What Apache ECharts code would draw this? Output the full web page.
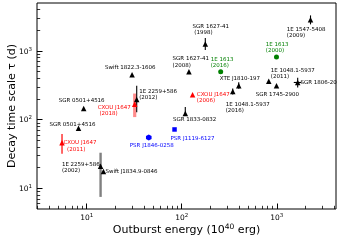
<!DOCTYPE html>
<html><head><meta charset="utf-8">
<script src="https://cdn.jsdelivr.net/npm/echarts@6/dist/echarts.min.js"></script>
<style>html,body{margin:0;padding:0;background:#fff}#c{width:340px;height:242px}</style>
</head><body><div id="c"></div>
<script>
// ---- data ----
const labelText = [
  'SGR 0501+4516', 'SGR 0501+4516', 'CXOU J1647\n  (2011)', '1E 2259+586\n(2002)',
  'Swift J1834.9-0846', 'Swift 1822.3-1606', 'CXOU J1647\n (2018)', '1E 2259+586\n(2012)',
  'SGR 1627-41\n(2008)', 'SGR 1627-41\n (1998)', '1E 1613\n(2016)', 'XTE J1810-197',
  'CXOU J1647\n(2006)', '1E 1048.1-5937\n(2016)', '1E 1048.1-5937\n(2011)', 'SGR 1745-2900',
  'SGR 1806-20', '1E 1547-5408\n(2009)', '1E 1613\n(2000)', 'SGR 1833-0832',
  'PSR J1119-6127', 'PSR J1846-0258'
];
const energy = [9.3, 8.2, 5.5, 14, 15, 30, 32, 33.6, 119, 177, 257, 398, 130, 344, 824, 993, 1660, 2265, 993, 109, 84, 45];
const tau = [146, 75, 46, 21, 17.6, 452, 167, 197, 499, 1260, 500, 313, 231, 257, 362, 313, 348, 2860, 820, 123, 72, 55];
const kind = ['mag','mag','red','mag','mag','mag','red','mag','mag','mag','green','mag','red','mag','mag','mag','mag','mag','green','mag','psrSq','psrHex'];

const errEnergy = [5.5, 14, 32, 33.6, 177, 398, 344, 1660, 2265, 109];
const errTauLo = [32, 7.5, 109, 128, 1030, 281, 233, 294, 2440, 116];
const errTauHi = [62, 33, 240, 313, 1540, 350, 284, 409, 3300, 153];
const errKind = ['red','gray','redSoft','black','black','black','black','black','black','black'];
const xErrTau = [348];
const xErrLo = [1510];
const xErrHi = [1820];

const xMajor = [10, 100, 1000];
const xMinor = [3,4,5,6,7,8,9,20,30,40,50,60,70,80,90,200,300,400,500,600,700,800,900,2000,3000,4000];
const yMajor = [10, 100, 1000];
const yMinor = [6,7,8,9,20,30,40,50,60,70,80,90,200,300,400,500,600,700,800,900,2000,3000,4000];

// ---- layout / style (not data) ----
const labelDx = [-25,-29,1.5,-38.7,2,-27,-37,2.5,-16.3,-12.7,-10,-19,4.3,-7,2,-20.7,2.7,-23.7,-10.7,-12.4,-4,-19];
const labelDy = [-8,-3.3,0,-2,0,-7.3,3,-8.3,-12.7,-17.5,-12.5,-7.3,-0.3,13,-10.7,9.3,-0.3,10,-12.7,6.3,9,7.7];
const FONT = 'DejaVu Sans';
const LH = 6.3;
const kindStyle = {
  mag:   {color:'#000000', symbol:'triangle', size:[5.5,5.5]},
  red:   {color:'#ff0000', symbol:'triangle', size:[5.5,5.5]},
  green: {color:'#008000', symbol:'circle', size:5},
  psrSq: {color:'#0000ff', symbol:'rect', size:4.5},
  psrHex:{color:'#0000ff', symbol:'path://M0,-1L0.866,-0.5L0.866,0.5L0,1L-0.866,0.5L-0.866,-0.5Z', size:[5.6,6.2]}
};
const errStyle = {
  red:    {stroke:'#ff0000', lineWidth:1.2, opacity:1},
  gray:   {stroke:'#808080', lineWidth:2.4, opacity:1},
  redSoft:{stroke:'#ff0000', lineWidth:3.2, opacity:0.45},
  black:  {stroke:'#000000', lineWidth:1.1, opacity:1}
};

function sup(v){
  const e = Math.round(Math.log10(v));
  return '{b|10}{s|' + e + '}';
}
const tickRich = {
  b:{fontSize:7.5, fontFamily:FONT, color:'#000', verticalAlign:'bottom', padding:[1.5,0,0,0]},
  s:{fontSize:5.5, fontFamily:FONT, color:'#000', verticalAlign:'top'}
};

const scatterSeries = Object.keys(kindStyle).map(k => {
  const st = kindStyle[k];
  const data = [];
  for (let i = 0; i < energy.length; i++) {
    if (kind[i] !== k) continue;
    data.push({
      value:[energy[i], tau[i]],
      label:{
        show:true, position:'inside', align:'left', verticalAlign:'top',
        offset:[labelDx[i], labelDy[i] - LH/2],
        formatter: labelText[i],
        color: st.color, fontSize:5.5, lineHeight:LH, fontFamily:FONT
      }
    });
  }
  return {
    type:'scatter', xAxisIndex:0, yAxisIndex:0, z:5,
    symbol: st.symbol, symbolSize: st.size,
    itemStyle:{color: st.color, opacity:1},
    data, animation:false, clip:false
  };
});

const errData = errEnergy.map((e,i) => [e, errTauLo[i], errTauHi[i], i]);
const errSeries = {
  type:'custom', xAxisIndex:0, yAxisIndex:0, z:3, animation:false,
  data: errData,
  renderItem(params, api){
    const i = api.value(3);
    const p1 = api.coord([api.value(0), api.value(1)]);
    const p2 = api.coord([api.value(0), api.value(2)]);
    const s = errStyle[errKind[i]];
    return {type:'line', shape:{x1:p1[0], y1:p1[1], x2:p2[0], y2:p2[1]},
      style:{stroke:s.stroke, lineWidth:s.lineWidth, opacity:s.opacity}};
  }
};
const xErrSeries = {
  type:'custom', xAxisIndex:0, yAxisIndex:0, z:3, animation:false,
  data: xErrTau.map((t,i) => [xErrLo[i], xErrHi[i], t]),
  renderItem(params, api){
    const p1 = api.coord([api.value(0), api.value(2)]);
    const p2 = api.coord([api.value(1), api.value(2)]);
    return {type:'line', shape:{x1:p1[0], y1:p1[1], x2:p2[0], y2:p2[1]},
      style:{stroke:'#000', lineWidth:1.1}};
  }
};

const baseX = {type:'log', logBase:10, min:3, max:4200, position:'bottom', gridIndex:0,
  axisLine:{show:false}, splitLine:{show:false}};
const baseY = {type:'log', logBase:10, min:5, max:5000, position:'left', gridIndex:0,
  axisLine:{show:false}, splitLine:{show:false}};

const chart = echarts.init(document.getElementById('c'), null, {renderer:'canvas'});
chart.setOption({
  animation:false,
  backgroundColor:'#fff',
  grid:{left:37, right:4, top:3, bottom:33, containLabel:false, outerBoundsMode:'none',
    show:true, borderColor:'#000', borderWidth:1, backgroundColor:'transparent'},
  xAxis:[
    Object.assign({}, baseX, {
      axisTick:{show:true, inside:true, length:5.5, customValues:xMajor, lineStyle:{color:'#000', width:1}},
      axisLabel:{show:true, customValues:xMajor, margin:4, formatter: v => sup(v), rich: tickRich},
      name:'{t|Outburst energy (10}{s|40}{t| erg)}', nameLocation:'middle', nameGap:14, nameMoveOverlap:false,
      nameTextStyle:{fontFamily:FONT, fontSize:11, color:'#000',
        rich:{t:{fontFamily:FONT, fontSize:11, color:'#000', verticalAlign:'bottom', padding:[2,0,0,0]},
              s:{fontFamily:FONT, fontSize:7.5, color:'#000', verticalAlign:'top'}}}
    }),
    Object.assign({}, baseX, {
      axisTick:{show:true, inside:true, length:3.2, customValues:xMinor, lineStyle:{color:'#000', width:0.8}},
      axisLabel:{show:false}
    })
  ],
  yAxis:[
    Object.assign({}, baseY, {
      axisTick:{show:true, inside:true, length:5.5, customValues:yMajor, lineStyle:{color:'#000', width:1}},
      axisLabel:{show:true, customValues:yMajor, margin:5, formatter: v => sup(v), rich: tickRich},
      name:'Decay time scale τ (d)', nameLocation:'middle', nameGap:19.5, nameMoveOverlap:false,
      nameTextStyle:{fontFamily:FONT, fontSize:11, color:'#000'}
    }),
    Object.assign({}, baseY, {
      axisTick:{show:true, inside:true, length:3.2, customValues:yMinor, lineStyle:{color:'#000', width:0.8}},
      axisLabel:{show:false}
    })
  ],
  series:[errSeries, xErrSeries].concat(scatterSeries)
});
</script>
</body></html>
